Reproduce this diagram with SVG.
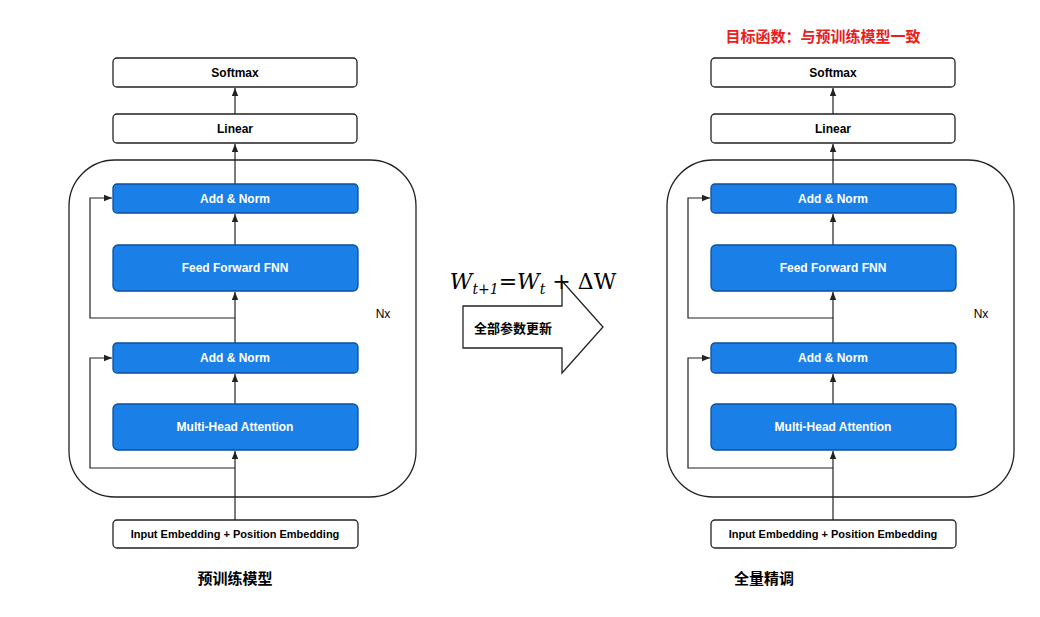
<svg xmlns="http://www.w3.org/2000/svg" width="1040" height="617" viewBox="0 0 1040 617">
<style>
.w{fill:#fff;stroke:#222;stroke-width:1.3}
.b{fill:#1a80e8;stroke:#0b4f9c;stroke-width:1.3}
.t{font-family:"Liberation Sans",Arial,sans-serif;font-weight:bold;font-size:12px;text-anchor:middle;dominant-baseline:central}
.tb{fill:#000}.tw{fill:#fff}
.c{fill:none;stroke:#222;stroke-width:1.2}
.cn{font-family:"Liberation Sans","Noto Sans CJK SC",sans-serif;font-weight:bold;text-anchor:middle;dominant-baseline:central}
</style>
<defs>
<marker id="a" viewBox="0 0 10 10" refX="10" refY="5" markerWidth="7" markerHeight="7" orient="auto"><path d="M0,1 L10,5 L0,9 z" fill="#222"/></marker>
<g id="net">
<rect x="69" y="160" width="347" height="337" rx="46" class="w"/>
<g id="connectors">
<path class="c" d="M235,520 V451" marker-end="url(#a)"/>
<path class="c" d="M235,404 V374" marker-end="url(#a)"/>
<path class="c" d="M235,343 V292" marker-end="url(#a)"/>
<path class="c" d="M235,245 V214" marker-end="url(#a)"/>
<path class="c" d="M235,184 V144" marker-end="url(#a)"/>
<path class="c" d="M235,114 V88" marker-end="url(#a)"/>
<path class="c" d="M235,468 H90 V358 H112" marker-end="url(#a)"/>
<path class="c" d="M235,318 H90 V198 H112" marker-end="url(#a)"/>
</g>
<g id="softmax"><rect x="113" y="58" width="244" height="29" rx="4" class="w"/><text x="235" y="73" class="t tb">Softmax</text></g>
<g id="linear"><rect x="113" y="114" width="244" height="29" rx="4" class="w"/><text x="235" y="129" class="t tb">Linear</text></g>
<g id="addnorm2"><rect x="113" y="184" width="245" height="29" rx="4" class="b"/><text x="235" y="199" class="t tw">Add &amp; Norm</text></g>
<g id="ffn"><rect x="113" y="245" width="245" height="46" rx="5" class="b"/><text x="235" y="268" class="t tw">Feed Forward FNN</text></g>
<g id="addnorm1"><rect x="113" y="343" width="245" height="30" rx="4" class="b"/><text x="235" y="358" class="t tw">Add &amp; Norm</text></g>
<g id="mha"><rect x="113" y="404" width="245" height="46" rx="5" class="b"/><text x="235" y="427" class="t tw">Multi-Head Attention</text></g>
<g id="input"><rect x="113" y="520" width="245" height="28" rx="4" class="w"/><text x="235" y="534" class="t tb" style="font-size:11px">Input Embedding + Position Embedding</text></g>
<text x="383" y="314" class="t tb" style="font-weight:normal;font-size:12px">Nx</text>
</g>
</defs>
<rect width="1040" height="617" fill="#fff"/>
<g id="left"><use href="#net"/></g>
<g id="right"><use href="#net" x="598"/></g>
<text x="235" y="578" class="cn" font-size="15">预训练模型</text>
<text x="764" y="578" class="cn" font-size="15">全量精调</text>
<text x="823" y="36" class="cn" font-size="15" fill="#e8201a">目标函数：与预训练模型一致</text>
<g id="update">
<path d="M463,306 H562 V281 L603,327 L562,373 V348 H463 Z" class="w" stroke-width="1.5"/>
<text x="513" y="328" class="cn" font-size="13">全部参数更新</text>
</g>
<text x="533" y="289" font-family="'DejaVu Serif',serif" font-style="italic" font-size="22" text-anchor="middle">W<tspan font-size="14" dy="5">t+1</tspan><tspan dy="-5">=W</tspan><tspan font-size="14" dy="5">t</tspan><tspan dy="-5" font-style="normal"> + ΔW</tspan></text>
</svg>
